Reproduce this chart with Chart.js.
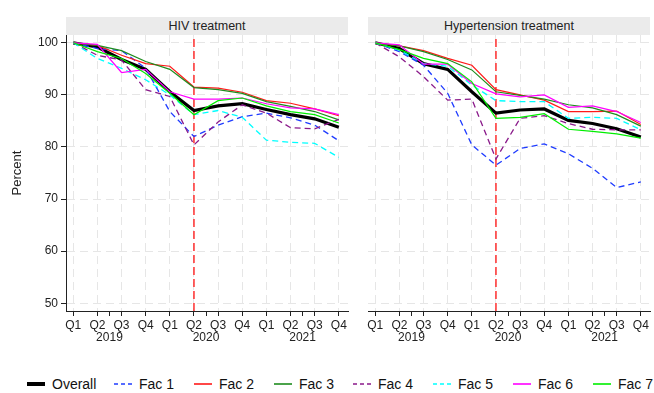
<!DOCTYPE html>
<html><head><meta charset="utf-8">
<script src="https://cdn.jsdelivr.net/npm/chart.js@4/dist/chart.umd.min.js"></script>
<style>
html,body{margin:0;padding:0;background:#fff;}
body{width:654px;height:393px;position:relative;overflow:hidden;font-family:"Liberation Sans",Arial,sans-serif;color:#222;}
canvas{position:absolute;top:0;}
.band{position:absolute;top:17px;height:18px;background:#ebebeb;font-size:12.5px;line-height:18px;text-align:center;color:#222;}
.item{position:absolute;top:375px;height:18px;display:flex;align-items:center;font-size:14px;color:#111;white-space:nowrap;}
.item svg{margin-right:7px;}
</style></head><body>
<canvas id="c1" width="352" height="355" style="left:0px"></canvas>
<canvas id="c2" width="294" height="355" style="left:360px"></canvas>
<div class="band" id="t1" style="left:66px;width:282px"></div>
<div class="band" id="t2" style="left:368px;width:282px"></div>
<div id="legend"></div>
<script>
// ---- data ----
const quarters = ['Q1','Q2','Q3','Q4','Q1','Q2','Q3','Q4','Q1','Q2','Q3','Q4'];
const years = ['2019','2020','2021'];
const panelTitles = ['HIV treatment','Hypertension treatment'];
const seriesNames = ['Overall','Fac 1','Fac 2','Fac 3','Fac 4','Fac 5','Fac 6','Fac 7'];
const yTicks = [50,60,70,80,90,100];
const covidQuarter = 5; // Q2 2020

const hivOverall = [100, 99.2, 96.8, 94.9, 90.6, 87.0, 87.9, 88.3, 87.2, 86.2, 85.4, 83.8];
const hivFac1    = [100, 98.9, 98.5, 95.1, 86.8, 82.0, 84.2, 85.8, 86.5, 85.6, 84.2, 81.2];
const hivFac2    = [100, 99.5, 97.6, 96.0, 95.5, 91.5, 91.3, 90.5, 88.9, 88.4, 87.3, 86.0];
const hivFac3    = [100, 99.5, 98.5, 96.4, 94.9, 91.4, 91.0, 90.3, 88.7, 87.8, 86.8, 85.2];
const hivFac4    = [100, 97.6, 96.7, 91.0, 89.7, 80.4, 84.8, 88.1, 86.5, 83.7, 83.5, 85.3];
const hivFac5    = [100, 97.0, 95.1, 92.9, 90.0, 86.2, 87.0, 85.7, 81.3, 80.9, 80.7, 78.0];
const hivFac6    = [100, 99.7, 94.3, 94.9, 90.6, 89.2, 89.2, 89.4, 88.3, 87.5, 87.3, 86.2];
const hivFac7    = [100, 98.3, 97.0, 94.1, 90.3, 86.2, 88.9, 89.4, 87.9, 86.8, 86.2, 84.6];

const htnOverall = [100, 98.9, 96.0, 94.9, 90.6, 86.5, 87.1, 87.3, 85.1, 84.5, 83.5, 81.9];
const htnFac1    = [100, 98.3, 95.7, 90.3, 80.4, 76.5, 79.7, 80.6, 78.7, 75.9, 72.2, 73.3];
const htnFac2    = [100, 99.4, 98.5, 97.0, 95.7, 91.0, 90.0, 89.0, 86.8, 86.8, 86.9, 84.3];
const htnFac3    = [100, 99.4, 98.3, 96.8, 94.8, 90.6, 89.9, 89.2, 88.1, 87.5, 86.2, 84.0];
const htnFac4    = [100, 97.3, 93.5, 89.0, 89.2, 77.7, 85.5, 86.0, 84.5, 83.4, 83.3, 83.3];
const htnFac5    = [100, 98.6, 96.0, 95.5, 91.9, 88.9, 88.7, 88.7, 85.5, 85.7, 85.5, 83.3];
const htnFac6    = [100, 99.6, 95.9, 95.9, 92.2, 90.2, 89.6, 90.0, 87.6, 87.9, 86.8, 84.7];
const htnFac7    = [100, 98.7, 97.0, 96.0, 92.5, 85.5, 85.7, 86.4, 83.4, 83.0, 82.5, 81.7];

// ---- styles ----
const colors = ['#000000','#1f3cff','#ff1a1a','#1e8c1e','#8a1a8a','#00ffff','#ff00ff','#00ee00'];
const dashes = [[],[6,4],[],[],[6,4],[6,4],[],[]];
const widths = [3.2,1.3,1.2,1.2,1.3,1.3,1.2,1.2];
const legendLeft = [27,114,194,274,353,433,513,593];

const hivSeries = [hivOverall,hivFac1,hivFac2,hivFac3,hivFac4,hivFac5,hivFac6,hivFac7];
const htnSeries = [htnOverall,htnFac1,htnFac2,htnFac3,htnFac4,htnFac5,htnFac6,htnFac7];

const Y_MIN = 48.5, Y_MAX = 101.5;
Chart.defaults.font.family = '"Liberation Sans", Arial, sans-serif';
Chart.defaults.color = '#222';

function makeDatasets(series){
  const ds = series.map((vals,i)=>({
    label: seriesNames[i],
    data: vals.map((v,j)=>({x:j,y:v})),
    borderColor: colors[i],
    borderWidth: widths[i],
    borderDash: dashes[i],
    pointRadius: 0,
    tension: 0,
    fill: false,
    order: series.length - i
  }));
  ds.push({
    label: 'covid',
    data: [{x:covidQuarter,y:Y_MIN},{x:covidQuarter,y:Y_MAX}],
    borderColor: '#ff2020',
    borderWidth: 1.4,
    borderDash: [8,4],
    pointRadius: 0,
    order: 100
  });
  return ds;
}

function xTickList(){
  const t = quarters.map((q,i)=>i);
  years.forEach((y,k)=>t.push(4*k+1.5));
  t.sort((a,b)=>a-b);
  return t.map(v=>({value:v}));
}

function makeChart(id, series, showY){
  const grid = '#e6e6e6';
  return new Chart(document.getElementById(id), {
    type: 'line',
    data: { datasets: makeDatasets(series) },
    options: {
      responsive: false, animation: false, devicePixelRatio: 1, events: [],
      layout: { padding: { top: 35, right: 4, left: showY ? 0 : 8, bottom: 0 } },
      plugins: { legend: { display: false }, tooltip: { enabled: false } },
      scales: {
        x: {
          type: 'linear', min: -0.3, max: 11.38,
          afterBuildTicks: s => { s.ticks = xTickList(); },
          afterFit: s => { s.height = 44; },
          ticks: {
            autoSkip: false, maxRotation: 0, minRotation: 0, padding: 3,
            font: { size: 12, lineHeight: 1.05 }, color: '#222',
            callback: v => Number.isInteger(v) ? quarters[v] : ['', years[Math.round((v-1.5)/4)]]
          },
          grid: {
            color: c => (c.tick && Number.isInteger(c.tick.value)) ? grid : 'rgba(0,0,0,0)',
            tickColor: '#222', tickLength: 5, tickWidth: 1, lineWidth: 1
          },
          border: { color: '#222', width: 1, dash: [8,5] }
        },
        y: {
          min: Y_MIN, max: Y_MAX,
          afterBuildTicks: s => { s.ticks = yTicks.map(v=>({value:v})); },
          afterFit: s => { s.width = showY ? 66 : 0; },
          ticks: { display: showY, padding: 3, font: { size: 12 }, color: '#222' },
          grid: { color: grid, tickColor: '#222', tickLength: 5, drawTicks: showY, lineWidth: 1 },
          border: { display: showY, color: '#222', width: 1, dash: [8,5] },
          title: { display: showY, text: 'Percent', font: { size: 13 }, color: '#222', padding: { top: 10, bottom: 0 } }
        }
      }
    }
  });
}

makeChart('c1', hivSeries, true);
makeChart('c2', htnSeries, false);
document.getElementById('t1').textContent = panelTitles[0];
document.getElementById('t2').textContent = panelTitles[1];

// legend
const lg = document.getElementById('legend');
seriesNames.forEach((n,i)=>{
  const d = document.createElement('div');
  d.className = 'item';
  d.style.left = legendLeft[i] + 'px';
  const w = widths[i] > 2 ? 4 : 1.6;
  const da = dashes[i].length ? 'stroke-dasharray="4 3"' : '';
  d.innerHTML = '<svg width="18" height="8"><line x1="0" y1="4" x2="18" y2="4" stroke="'+colors[i]+'" stroke-width="'+w+'" '+da+'/></svg><span></span>';
  d.querySelector('span').textContent = n;
  lg.appendChild(d);
});
</script>
</body></html>
